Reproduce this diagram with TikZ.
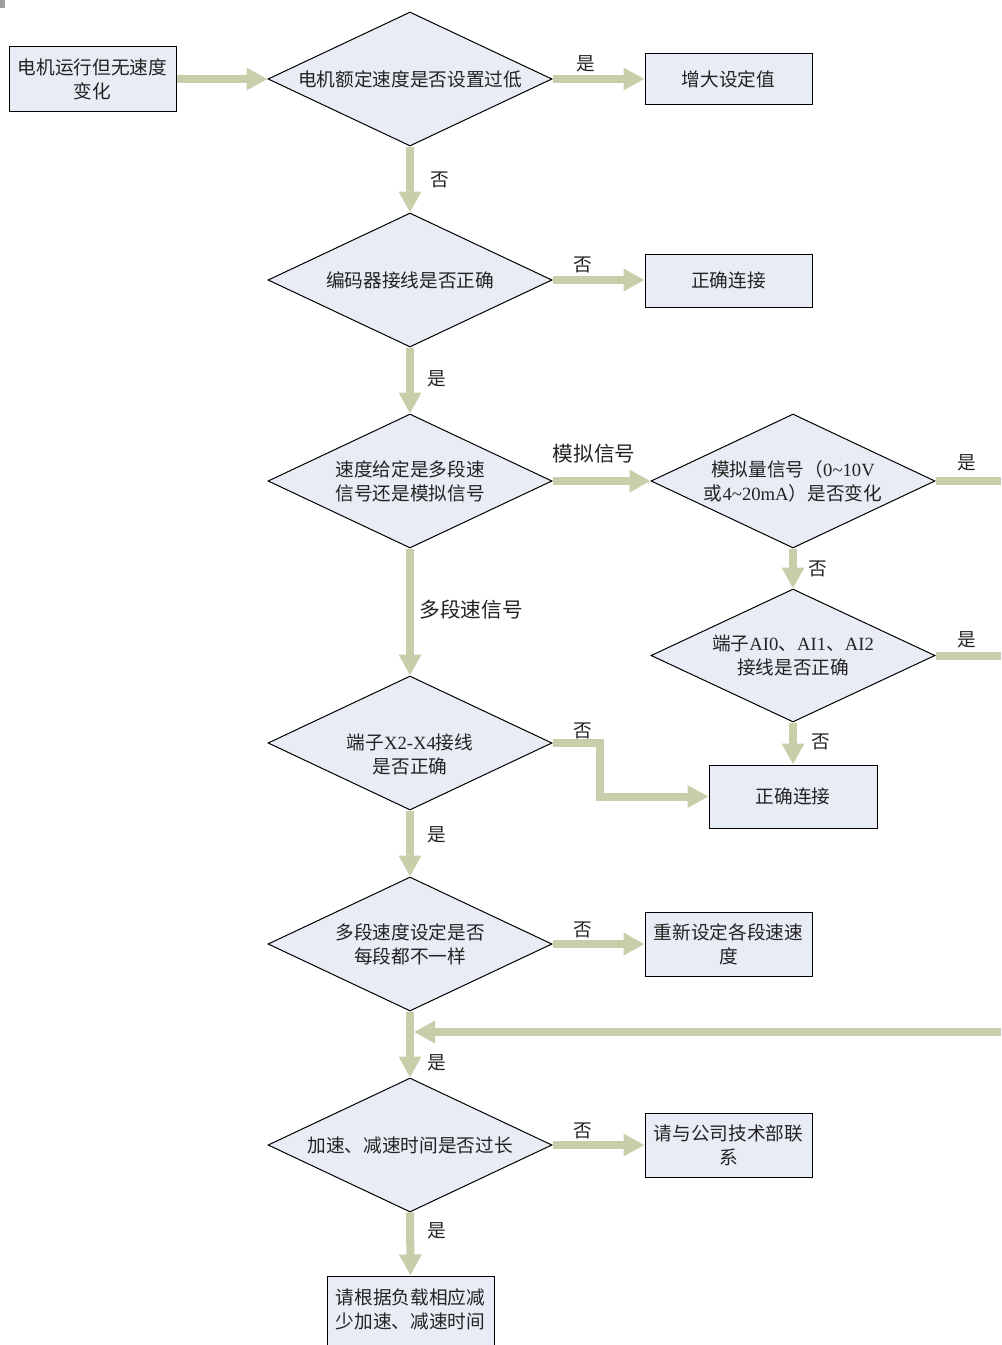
\documentclass[tikz,border=0pt]{standalone}
\usepackage{fontspec}
\setmainfont{Liberation Serif}
\newfontfamily\cjk{Noto Sans CJK SC}
\newfontfamily\lat{Liberation Serif}
\usetikzlibrary{shapes.geometric,arrows.meta}
\definecolor{flow}{RGB}{199,206,169}
\definecolor{boxfill}{RGB}{232,236,244}
\definecolor{txt}{RGB}{35,35,35}
\begin{document}
\begin{tikzpicture}[x=0.75pt,y=-0.75pt,
  every node/.style={font=\cjk\fontsize{14}{18}\selectfont, text=txt},
  dec/.style={diamond, draw=black, line width=0.75pt, fill=boxfill, minimum width=213pt,
    minimum height=100.5pt, inner sep=0pt, shape aspect=2.12, align=center},
  proc/.style={rectangle, draw=black, line width=0.75pt, fill=boxfill, minimum width=125.25pt,
    inner sep=0pt, align=center},
  flowline/.style={draw=flow, line width=6pt, line join=miter},
  flowarrow/.style={flowline, -{Triangle[width=16pt,length=15.75pt]}},
  lbl/.style={inner sep=0pt},
  biglbl/.style={inner sep=0pt, font=\cjk\fontsize{15.5}{18}\selectfont}]
\useasboundingbox (0,0) rectangle (1001,1345);
\clip (0,0) rectangle (1001,1345);
\fill[gray!75] (0,0) rectangle (5,8);

% nodes
\node[proc, minimum height=48pt] (start) at (92.5,79) {电机运行但无速度\\变化};
\node[dec] (d1) at (410,79) {电机额定速度是否设置过低};
\node[proc, minimum height=37.5pt] (b1) at (728.5,79) {增大设定值};
\node[dec] (d2) at (410,280) {编码器接线是否正确};
\node[proc, minimum height=39.75pt] (b2) at (728.5,280.5) {正确连接};
\node[dec] (d3) at (410,481) {速度给定是多段速\\信号还是模拟信号};
\node[dec] (d4) at (793,481) {模拟量信号（{\lat 0\textasciitilde10V}\\或{\lat 4\textasciitilde20mA}）是否变化};
\node[dec, minimum height=99.75pt] (d5) at (793,655.5) {端子{\lat AI0}、{\lat AI1}、{\lat AI2}\\接线是否正确};
\node[proc, minimum width=126pt, minimum height=47.25pt] (b3) at (793,796.5) {正确连接};
\node[dec] (d6) at (410,743) {\rule{0pt}{28.8pt}端子{\lat X2-X4}接线\\是否正确};
\node[dec] (d7) at (410,944) {多段速度设定是否\\每段都不一样};
\node[proc, minimum height=48pt] (b4) at (728.5,944) {重新设定各段速速\\度};
\node[dec] (d8) at (410,1145) {加速、减速时间是否过长};
\node[proc, minimum height=48pt] (b5) at (728.5,1145) {请与公司技术部联\\系};
\node[proc, minimum height=55.5pt] (b6) at (410.5,1313) {请根据负载相应减\\少加速、减速时间\rule[-6.2pt]{0pt}{6.2pt}};

% free ends
\coordinate (r1) at (1001,481);
\coordinate (r2) at (1001,655.5);
\coordinate (r3) at (1001,1032);
\coordinate (j) at (414,1032);
\coordinate (e1) at (600,743);

% connectors
\draw[flowarrow] (start.east) -- (d1.west);
\draw[flowarrow] (d1.east) -- (b1.west);
\draw[flowarrow] (d1.south) -- (d2.north);
\draw[flowarrow] (d2.east) -- (d2.east -| b2.west);
\draw[flowarrow] (d2.south) -- (d3.north);
\draw[flowarrow] (d3.east) -- (d4.west);
\draw[flowarrow] (d3.south) -- (d6.north);
\draw[flowarrow] (d4.south) -- (d5.north);
\draw[flowline] (d4.east) -- (r1);
\draw[flowline] (d5.east) -- (r2);
\draw[flowarrow] (d5.south) -- (b3.north);
\draw[flowarrow] (d6.east) -- (e1) |- (b3.west);
\draw[flowarrow] (d6.south) -- (d7.north);
\draw[flowarrow] (d7.east) -- (b4.west);
\draw[flowarrow] (d7.south) -- (d8.north);
\draw[flowarrow] (r3) -- (j);
\draw[flowarrow] (d8.east) -- (b5.west);
\draw[flowarrow] (d8.south) -- (b6.north);

% labels
\node[lbl] (l1) at (586,64) {是};
\node[lbl] (l2) at (440,180) {否};
\node[lbl] (l3) at (583,265) {否};
\node[lbl] (l4) at (437,379) {是};
\node[biglbl] (l5) at (594,454) {模拟信号};
\node[lbl] (l6) at (967,463) {是};
\node[lbl] (l7) at (818,569) {否};
\node[biglbl] (l8) at (471,610) {多段速信号};
\node[lbl] (l9) at (967,640) {是};
\node[lbl] (l10) at (583,731) {否};
\node[lbl] (l11) at (821,742) {否};
\node[lbl] (l12) at (437,835) {是};
\node[lbl] (l13) at (583,930) {否};
\node[lbl] (l14) at (437,1063) {是};
\node[lbl] (l15) at (583,1131) {否};
\node[lbl] (l16) at (437,1231) {是};
\end{tikzpicture}
\end{document}
